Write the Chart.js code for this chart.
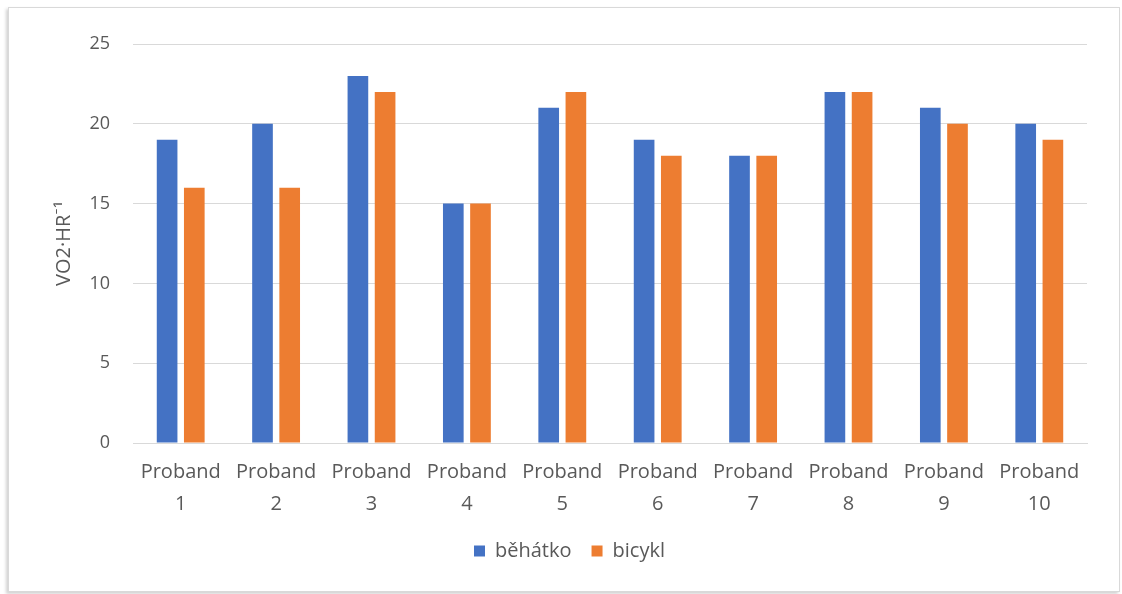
<!DOCTYPE html>
<html>
<head>
<meta charset="utf-8">
<script src="https://cdn.jsdelivr.net/npm/chart.js@4/dist/chart.umd.min.js"></script>
<style>
    html, body { margin: 0; padding: 0; background: #ffffff; }
    .frame {
        position: absolute;
        left: 8px;
        top: 7px;
        width: 1112px;
        height: 585px;
        background: #ffffff;
        border: 1px solid #d9d9d9;
        box-shadow: -2px 2px 3px rgba(0, 0, 0, 0.18);
        box-sizing: border-box;
    }
    canvas { display: block; }
</style>
</head>
<body>
<div class="frame"><canvas id="chart" width="1110" height="583"></canvas></div>
<script>
const categories = [
    ['Proband', '1'], ['Proband', '2'], ['Proband', '3'], ['Proband', '4'], ['Proband', '5'],
    ['Proband', '6'], ['Proband', '7'], ['Proband', '8'], ['Proband', '9'], ['Proband', '10'],
];
const behatko = [19, 20, 23, 15, 21, 19, 18, 22, 21, 20];
const bicykl = [16, 16, 22, 15, 22, 18, 18, 22, 20, 19];
const yTicks = [0, 5, 10, 15, 20, 25];

const textColor = '#595959';
const gridColor = '#d9d9d9';
const fontFamily = '"Open Sans", Lato, sans-serif';

Chart.defaults.font.family = fontFamily;
Chart.defaults.color = textColor;

new Chart(document.getElementById('chart'), {
    type: 'bar',
    data: {
        labels: categories,
        datasets: [
            {
                label: 'běhátko',
                data: behatko,
                backgroundColor: '#4472c4',
                borderWidth: 0,
            },
            {
                label: 'bicykl',
                data: bicykl,
                backgroundColor: '#ed7d31',
                borderWidth: 0,
            },
        ],
    },
    options: {
        responsive: false,
        animation: false,
        categoryPercentage: 0.57,
        barPercentage: 0.76,
        layout: {
            padding: { left: 43, right: 32, top: 36, bottom: 20 },
        },
        plugins: {
            tooltip: { enabled: false },
            legend: {
                position: 'bottom',
                labels: {
                    boxWidth: 11,
                    boxHeight: 11,
                    padding: 20,
                    color: textColor,
                    font: { size: 20 },
                },
            },
        },
        scales: {
            x: {
                grid: { display: false, drawTicks: false },
                border: { color: gridColor, width: 1 },
                afterFit: (scale) => {
                    // let the two-line labels sit closer to the legend
                    scale.height -= 12;
                },
                ticks: {
                    color: textColor,
                    padding: 13,
                    maxRotation: 0,
                    autoSkip: false,
                    font: { size: 20, lineHeight: 1.6 },
                },
            },
            y: {
                min: 0,
                max: 25,
                afterBuildTicks: (scale) => {
                    scale.ticks = yTicks.map((v) => ({ value: v }));
                },
                afterFit: (scale) => {
                    scale.width = 81;
                },
                grid: { color: gridColor, drawTicks: false },
                border: { display: false },
                ticks: {
                    color: textColor,
                    padding: 23,
                    font: { size: 18 },
                },
                title: {
                    display: true,
                    text: 'VO2·HR⁻¹',
                    color: textColor,
                    font: { size: 20 },
                    padding: { top: 0, bottom: 0 },
                },
            },
        },
    },
});
</script>
</body>
</html>
